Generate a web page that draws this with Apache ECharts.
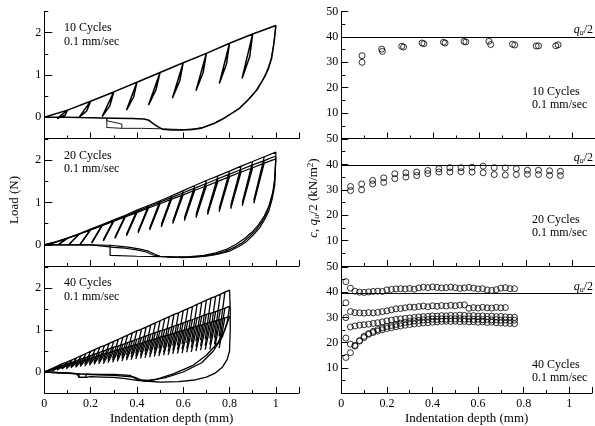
<!DOCTYPE html>
<html>
<head>
<meta charset="utf-8">
<script src="https://cdn.jsdelivr.net/npm/echarts@6/dist/echarts.min.js"></script>
<style>
  html, body { margin: 0; padding: 0; background: #fff; }
  #chart { width: 595px; height: 426px; }
</style>
</head>
<body>
<div id="chart"></div>
<script>
const SERIF = '"Liberation Serif", "Times New Roman", serif';

// ---- left column: load vs indentation depth ----
// 10 cycles
const peaks10 = [[0.1,0.17],[0.2,0.38],[0.3,0.6],[0.4,0.83],[0.5,1.06],[0.6,1.29],[0.7,1.51],[0.8,1.75],[0.9,1.97],[1.0,2.17]];
const valleys10 = [[0.055,-0.03],[0.15,0.0],[0.25,0.02],[0.355,0.17],[0.45,0.29],[0.553,0.45],[0.655,0.63],[0.756,0.8],[0.854,0.92]];
const reload10 = [[0.09,0.05],[0.183,0.15],[0.283,0.27],[0.386,0.48],[0.483,0.66],[0.585,0.86],[0.686,1.06],[0.787,1.26],[0.887,1.43]];
const tail10a = [[1.0,2.17],[0.993,1.8],[0.982,1.4],[0.968,1.15],[0.952,0.96],[0.92,0.66],[0.88,0.41],[0.845,0.22],[0.807,0.09],[0.77,-0.04],[0.735,-0.14],[0.7,-0.21],[0.677,-0.26],[0.64,-0.29],[0.6,-0.3],[0.55,-0.3],[0.51,-0.28],[0.49,-0.22],[0.47,-0.15],[0.452,-0.07],[0.43,-0.04],[0.38,-0.03],[0.3,-0.02],[0.2,-0.01],[0.1,0.0],[0.0,0.0]];
const tail10b = [[1.0,2.15],[0.99,1.7],[0.978,1.35],[0.96,1.08],[0.945,0.9],[0.912,0.62],[0.873,0.38],[0.838,0.2],[0.8,0.06],[0.763,-0.06],[0.727,-0.16],[0.69,-0.23],[0.65,-0.27],[0.6,-0.29],[0.55,-0.28],[0.5,-0.27],[0.42,-0.26],[0.335,-0.26],[0.27,-0.24],[0.27,-0.02],[0.27,-0.08],[0.335,-0.16],[0.335,-0.26]];

// 20 cycles (three overlapping runs)
const peakDepth20 = [0.05,0.10,0.15,0.20,0.25,0.30,0.35,0.40,0.45,0.50,0.55,0.60,0.65,0.70,0.75,0.80,0.85,0.90,0.95,1.00];
const valleyDepth20 = [0.01,0.06,0.105,0.155,0.205,0.255,0.305,0.355,0.405,0.455,0.505,0.555,0.605,0.655,0.705,0.755,0.805,0.855,0.905];
const peakA20 = [0.07,0.16,0.26,0.37,0.48,0.59,0.70,0.82,0.93,1.04,1.16,1.28,1.40,1.52,1.63,1.74,1.86,1.97,2.08,2.19];
const valleyA20 = [0.00,0.00,0.00,0.02,0.06,0.12,0.18,0.25,0.32,0.40,0.48,0.56,0.64,0.72,0.79,0.86,0.93,1.00,1.06];
const peakB20 = [0.07,0.16,0.25,0.36,0.46,0.57,0.68,0.79,0.90,1.01,1.12,1.23,1.34,1.45,1.56,1.67,1.78,1.89,1.99,2.10];
const valleyB20 = [0.00,0.00,0.00,0.01,0.05,0.10,0.16,0.23,0.30,0.37,0.44,0.52,0.60,0.67,0.74,0.81,0.88,0.95,1.01];
const peakC20 = [0.06,0.15,0.25,0.35,0.45,0.56,0.66,0.76,0.87,0.97,1.08,1.18,1.29,1.39,1.50,1.61,1.72,1.82,1.93,2.03];
const valleyC20 = [0.00,0.00,0.00,0.01,0.04,0.09,0.15,0.21,0.28,0.35,0.42,0.50,0.57,0.64,0.71,0.78,0.85,0.92,0.98];
const tail20A = [[1.0,2.19],[0.998,1.7],[0.995,1.4],[0.985,1.1],[0.97,0.8],[0.95,0.58],[0.93,0.4],[0.9,0.22],[0.874,0.08],[0.84,-0.04],[0.8,-0.15],[0.75,-0.22],[0.7,-0.27],[0.65,-0.29],[0.6,-0.3],[0.55,-0.29],[0.5,-0.27],[0.48,-0.23],[0.45,-0.15],[0.414,-0.1],[0.37,-0.06],[0.32,-0.03],[0.284,-0.01],[0.2,0.0],[0.0,0.0]];
const tail20B = [[1.0,2.1],[0.996,1.6],[0.99,1.3],[0.978,1.02],[0.96,0.74],[0.94,0.54],[0.915,0.36],[0.885,0.19],[0.855,0.05],[0.82,-0.06],[0.78,-0.16],[0.73,-0.23],[0.68,-0.27],[0.62,-0.29],[0.56,-0.29],[0.5,-0.27],[0.47,-0.24],[0.44,-0.17],[0.4,-0.12],[0.35,-0.08],[0.3,-0.06],[0.284,-0.05],[0.284,-0.01],[0.2,0.0],[0.0,0.0]];
const tail20C = [[1.0,2.03],[0.994,1.5],[0.985,1.2],[0.97,0.92],[0.95,0.68],[0.925,0.47],[0.895,0.29],[0.865,0.15],[0.83,0.02],[0.79,-0.1],[0.74,-0.19],[0.69,-0.25],[0.63,-0.28],[0.57,-0.29],[0.5,-0.28],[0.4,-0.27],[0.284,-0.25],[0.284,0.0]];

// 40 cycles (three overlapping runs)
const peakDepth40 = [0.02,0.04,0.06,0.08,0.10,0.12,0.14,0.16,0.18,0.20,0.22,0.24,0.26,0.28,0.30,0.32,0.34,0.36,0.38,0.40,0.42,0.44,0.46,0.48,0.50,0.52,0.54,0.56,0.58,0.60,0.62,0.64,0.66,0.68,0.70,0.72,0.74,0.76,0.78,0.80];
const valleyDepth40 = [0.00,0.015,0.035,0.055,0.075,0.095,0.115,0.135,0.155,0.175,0.195,0.215,0.235,0.255,0.275,0.295,0.315,0.335,0.355,0.375,0.395,0.415,0.435,0.455,0.475,0.495,0.515,0.535,0.555,0.575,0.595,0.615,0.635,0.655,0.675,0.695,0.715,0.735,0.755];
const peakA40 = [0.05,0.10,0.15,0.20,0.24,0.29,0.34,0.39,0.44,0.49,0.54,0.59,0.63,0.68,0.73,0.78,0.83,0.88,0.93,0.98,1.02,1.07,1.12,1.17,1.22,1.27,1.32,1.37,1.41,1.46,1.51,1.56,1.61,1.66,1.71,1.76,1.80,1.85,1.90,1.95];
const valleyA40 = [0.00,0.02,0.05,0.07,0.09,0.11,0.13,0.16,0.18,0.20,0.22,0.24,0.27,0.29,0.31,0.33,0.35,0.38,0.40,0.42,0.44,0.47,0.49,0.51,0.53,0.56,0.58,0.60,0.62,0.64,0.67,0.69,0.71,0.73,0.76,0.78,0.80,0.82,0.85];
const peakB40 = [0.04,0.08,0.12,0.16,0.20,0.23,0.27,0.31,0.35,0.39,0.43,0.47,0.51,0.55,0.59,0.62,0.66,0.70,0.74,0.78,0.82,0.86,0.90,0.94,0.98,1.01,1.05,1.09,1.13,1.17,1.21,1.25,1.29,1.33,1.37,1.40,1.44,1.48,1.52,1.56];
const valleyB40 = [0.00,0.02,0.04,0.06,0.08,0.10,0.12,0.14,0.16,0.18,0.19,0.21,0.23,0.25,0.27,0.28,0.30,0.32,0.33,0.35,0.37,0.39,0.41,0.42,0.44,0.45,0.47,0.49,0.51,0.53,0.54,0.56,0.58,0.60,0.62,0.63,0.65,0.67,0.68];
const peakC40 = [0.03,0.07,0.10,0.13,0.17,0.20,0.23,0.26,0.30,0.33,0.36,0.40,0.43,0.46,0.50,0.53,0.56,0.59,0.63,0.66,0.69,0.73,0.76,0.79,0.83,0.86,0.89,0.92,0.96,0.99,1.02,1.06,1.09,1.12,1.16,1.19,1.22,1.25,1.29,1.32];
const valleyC40 = [0.00,0.02,0.03,0.05,0.07,0.08,0.10,0.11,0.13,0.14,0.16,0.18,0.19,0.20,0.22,0.23,0.25,0.26,0.28,0.29,0.31,0.32,0.34,0.35,0.37,0.38,0.40,0.41,0.43,0.44,0.45,0.47,0.48,0.50,0.52,0.53,0.54,0.56,0.57];
const tail40A = [[0.8,1.95],[0.803,1.5],[0.803,1.0],[0.8,0.5],[0.79,0.3],[0.77,0.12],[0.74,-0.02],[0.7,-0.12],[0.65,-0.19],[0.58,-0.23],[0.5,-0.24],[0.45,-0.22],[0.4,-0.2],[0.35,-0.16],[0.3,-0.13],[0.25,-0.12],[0.2,-0.11],[0.18,-0.13],[0.15,-0.13],[0.15,-0.05],[0.1,-0.02],[0.0,0.0]];
const tail40B = [[0.8,1.56],[0.79,1.2],[0.77,0.85],[0.73,0.5],[0.68,0.22],[0.6,0.0],[0.52,-0.14],[0.45,-0.2],[0.4,-0.18],[0.37,-0.08],[0.3,-0.06],[0.25,-0.06],[0.18,-0.05],[0.18,-0.13],[0.15,-0.13],[0.14,-0.04],[0.0,0.0]];
const tail40C = [[0.8,1.32],[0.78,1.0],[0.75,0.7],[0.7,0.4],[0.64,0.15],[0.56,-0.04],[0.48,-0.18],[0.43,-0.22],[0.39,-0.12],[0.3,-0.08],[0.2,-0.06],[0.0,0.0]];

// ---- right column: c, q_u/2 vs indentation depth ----
const quHalf = 39.7;
const depth10a = [0.09,0.175,0.262,0.35,0.443,0.532,0.64,0.742,0.845,0.93];
const depth10b = [0.09,0.178,0.27,0.358,0.45,0.54,0.648,0.752,0.855,0.94];
const c10a = [32.6,35.2,36.3,37.6,37.9,38.2,38.3,37.1,36.4,36.5];
const c10b = [30.0,34.3,36.0,37.3,37.6,38.0,37.0,36.8,36.5,36.9];

const depth20 = [0.04,0.088,0.136,0.184,0.232,0.28,0.327,0.375,0.423,0.471,0.519,0.567,0.615,0.663,0.711,0.759,0.807,0.855,0.903,0.95];
const c20a = [31.3,32.3,33.7,34.7,36.3,36.7,37.0,37.6,38.3,38.7,38.7,38.9,39.3,38.7,38.6,38.3,37.7,37.7,37.5,37.3];
const c20b = [29.7,30.0,32.3,32.9,34.4,35.0,35.6,36.4,37.0,37.0,37.1,37.0,36.7,36.0,35.8,36.0,36.1,36.0,35.7,35.6];

const depth40 = [0.02,0.04,0.06,0.08,0.10,0.12,0.14,0.16,0.18,0.20,0.22,0.24,0.26,0.28,0.30,0.32,0.34,0.36,0.38,0.40,0.42,0.44,0.46,0.48,0.50,0.52,0.54,0.56,0.58,0.60,0.62,0.64,0.66,0.68,0.70,0.72,0.74,0.76];
const c40s1 = [44.2,41.6,40.4,40.0,39.9,40.1,40.3,40.4,40.3,40.9,41.1,41.3,41.4,41.3,41.5,41.2,41.7,42.0,41.8,42.1,41.9,41.7,41.8,42.0,41.8,41.5,41.7,41.9,41.6,41.3,41.4,40.9,40.7,41.0,41.6,41.8,41.4,41.4];
const c40s2 = [35.8,32.3,31.9,31.8,31.7,31.9,31.8,32.0,32.3,32.6,33.0,33.4,33.5,33.8,34.1,34.0,34.3,34.5,34.2,34.6,34.4,34.7,34.5,34.8,34.6,34.9,35.0,33.6,33.9,33.7,34.0,33.8,33.7,34.0,33.8,33.9];
const c40s3 = [29.9,26.2,26.6,26.9,27.1,27.3,27.6,27.9,28.2,28.6,28.9,29.2,29.4,29.6,29.8,30.0,30.2,30.3,30.4,30.6,30.5,30.7,30.6,30.8,30.7,30.9,30.8,30.6,30.7,30.5,30.6,30.4,30.5,30.3,30.4,30.2,30.1,30.0];
const c40s4 = [21.8,19.4,18.9,20.8,22.5,23.6,24.5,25.2,25.8,26.4,26.8,27.2,27.7,28.0,28.3,28.6,28.8,29.0,29.1,29.3,29.2,29.4,29.3,29.5,29.4,29.5,29.3,29.4,29.2,29.3,29.1,29.2,29.0,29.1,28.9,29.0,28.8,28.9];
const c40s5 = [14.1,16.0,18.6,20.6,22.0,23.3,24.0,24.6,25.1,25.6,25.9,26.3,26.6,26.9,27.2,27.4,27.6,27.8,27.9,28.1,28.2,28.4,28.5,28.4,28.5,28.3,28.4,28.2,28.3,28.1,28.2,28.0,28.1,27.9,27.8,27.7,27.6,27.5];

// ---- helpers ----
function zip(xs, ys) {
    return ys.map((y, i) => [xs[i], y]);
}

function sawPath(pDepth, pLoad, vDepth, vLoad, tail, reload) {
    const pts = [[0, 0]];
    for (let i = 0; i < pLoad.length; i++) {
        pts.push([pDepth[i], pLoad[i]]);
        if (i < vLoad.length) {
            pts.push([vDepth[i], vLoad[i]]);
            if (reload) pts.push(reload[i]);
            pts.push([pDepth[i], pLoad[i]]);
        }
    }
    return pts.concat(tail);
}

function lineSeries(data, gi, w) {
    return {
        type: 'line', xAxisIndex: gi, yAxisIndex: gi, data: data,
        symbol: 'none', showSymbol: false, silent: true, animation: false,
        lineStyle: { color: '#000', width: w }
    };
}

function dots(data, gi, withLine) {
    const s = {
        type: 'scatter', xAxisIndex: gi, yAxisIndex: gi, data: data,
        symbol: 'circle', symbolSize: 6, silent: true, animation: false,
        itemStyle: { color: 'rgba(0,0,0,0)', borderColor: '#000', borderWidth: 1 }
    };
    if (withLine) {
        s.markLine = {
            silent: true, symbol: ['none', 'none'], animation: false,
            label: { show: false },
            lineStyle: { color: '#000', width: 1, type: 'solid' },
            data: [{ yAxis: quHalf }]
        };
    }
    return s;
}

const tops = [11.5, 139, 267];
const grids = [];
const xAxes = [];
const yAxes = [];
const tickStyle = { color: '#000', width: 1 };
const labelFont = { color: '#000', fontFamily: SERIF, fontSize: 12 };

for (let col = 0; col < 2; col++) {
    for (let row = 0; row < 3; row++) {
        const gi = col * 3 + row;
        grids.push(col === 0
            ? { left: 44.3, top: tops[row], width: 254.7, height: 127 }
            : { left: 341.3, top: tops[row], width: 255.2, height: 127 });
        const bottom = row === 2;
        xAxes.push({
            type: 'value', gridIndex: gi, position: 'bottom', min: 0, max: 1.1, interval: 0.2,
            axisLine: { show: true, onZero: false, lineStyle: tickStyle },
            axisTick: { show: true, inside: true, length: 6, lineStyle: tickStyle },
            minorTick: { show: true, splitNumber: 2, length: 3, lineStyle: tickStyle },
            splitLine: { show: false },
            axisLabel: Object.assign({ show: bottom, margin: 5,
                formatter: v => (v > 1.01 ? '' : String(+v.toFixed(1))) }, labelFont),
            name: bottom ? 'Indentation depth (mm)' : '',
            nameLocation: 'middle', nameGap: 19,
            nameTextStyle: { color: '#000', fontFamily: SERIF, fontSize: 13 }
        });
        if (col === 0) {
            // ticks: long at whole newtons, short at halves
            yAxes.push({
                type: 'value', gridIndex: gi, position: 'left', min: -0.5, max: 2.5, interval: 1,
                axisLine: { show: true, onZero: false, lineStyle: tickStyle },
                axisTick: { show: true, inside: true, length: 4, lineStyle: tickStyle },
                minorTick: { show: true, splitNumber: 2, length: 8, lineStyle: tickStyle },
                splitLine: { show: false },
                axisLabel: { show: false }
            });
        } else {
            yAxes.push({
                type: 'value', gridIndex: gi, position: 'left', min: 0, max: 50, interval: 10,
                axisLine: { show: true, onZero: false, lineStyle: tickStyle },
                axisTick: { show: true, inside: true, length: 7, lineStyle: tickStyle },
                minorTick: { show: true, splitNumber: 2, length: 4, lineStyle: tickStyle },
                splitLine: { show: false },
                axisLabel: Object.assign({ margin: 3, formatter: v => (v === 0 ? '' : String(v)) }, labelFont)
            });
        }
    }
}
// label-only axes for the load panels
for (let row = 0; row < 3; row++) {
    yAxes.push({
        type: 'value', gridIndex: row, position: 'left', offset: 0, min: -0.5, max: 2.5, interval: 0.5,
        axisLine: { show: false }, axisTick: { show: false }, splitLine: { show: false },
        axisLabel: Object.assign({ margin: 3,
            formatter: v => (Math.abs(v - Math.round(v)) < 1e-6 && v >= 0 && v <= 2 ? String(Math.round(v)) : '') }, labelFont)
    });
}

const series = [
    lineSeries(sawPath(peaks10.map(p => p[0]), peaks10.map(p => p[1]), valleys10.map(p => p[0]), valleys10.map(p => p[1]), tail10a, reload10), 0, 1.5),
    lineSeries(tail10b, 0, 0.9),

    lineSeries(sawPath(peakDepth20, peakA20, valleyDepth20, valleyA20, tail20A), 1, 1.2),
    lineSeries(sawPath(peakDepth20, peakB20, valleyDepth20, valleyB20, tail20B), 1, 1.2),
    lineSeries(sawPath(peakDepth20, peakC20, valleyDepth20, valleyC20, tail20C), 1, 1.2),

    lineSeries(sawPath(peakDepth40, peakA40, valleyDepth40, valleyA40, tail40A), 2, 1.3),
    lineSeries(sawPath(peakDepth40, peakB40, valleyDepth40, valleyB40, tail40B), 2, 1.3),
    lineSeries(sawPath(peakDepth40, peakC40, valleyDepth40, valleyC40, tail40C), 2, 1.3),

    dots(zip(depth10a, c10a), 3, true),
    dots(zip(depth10b, c10b), 3, false),
    dots(zip(depth20, c20a), 4, true),
    dots(zip(depth20, c20b), 4, false),
    dots(zip(depth40, c40s1), 5, true),
    dots(zip(depth40, c40s2), 5, false),
    dots(zip(depth40, c40s3), 5, false),
    dots(zip(depth40, c40s4), 5, false),
    dots(zip(depth40, c40s5), 5, false)
];

function note(x, y, text, align) {
    return { type: 'text', x: x, y: y, silent: true,
        style: { text: text, font: '12px ' + SERIF, fill: '#000', align: align || 'left', verticalAlign: 'middle' } };
}

const quRich = {
    i: { fontFamily: SERIF, fontStyle: 'italic', fontSize: 12, fill: '#000' },
    s: { fontFamily: SERIF, fontStyle: 'italic', fontSize: 8, fill: '#000', padding: [6, 0, 0, 0] },
    n: { fontFamily: SERIF, fontSize: 12, fill: '#000' }
};
function quLabel(y) {
    return { type: 'text', x: 593, y: y, silent: true,
        style: { text: '{i|q}{s|u}{n|/2}', rich: quRich, align: 'right', verticalAlign: 'middle' } };
}

const graphics = [
    note(64, 28, '10 Cycles'), note(64, 42, '0.1 mm/sec'),
    note(64, 156, '20 Cycles'), note(64, 169, '0.1 mm/sec'),
    note(64, 283, '40 Cycles'), note(64, 297, '0.1 mm/sec'),
    note(532, 92, '10 Cycles'), note(532, 105, '0.1 mm/sec'),
    note(532, 220, '20 Cycles'), note(532, 233, '0.1 mm/sec'),
    note(532, 365, '40 Cycles'), note(532, 378, '0.1 mm/sec'),
    quLabel(30), quLabel(158), quLabel(287),
    { type: 'text', x: 15, y: 200, rotation: Math.PI / 2, silent: true,
      style: { text: 'Load (N)', font: '13px ' + SERIF, fill: '#000', align: 'center', verticalAlign: 'middle' } },
    { type: 'text', x: 314, y: 198, rotation: Math.PI / 2, silent: true,
      style: {
          text: '{i|c}{n|, }{i|q}{s|u}{n|/2 (kN/m}{p|2}{n|)}',
          align: 'center', verticalAlign: 'middle',
          rich: {
              i: { fontFamily: SERIF, fontStyle: 'italic', fontSize: 13, fill: '#000' },
              n: { fontFamily: SERIF, fontSize: 13, fill: '#000' },
              s: { fontFamily: SERIF, fontStyle: 'italic', fontSize: 9, fill: '#000', padding: [6, 0, 0, 0] },
              p: { fontFamily: SERIF, fontSize: 9, fill: '#000', padding: [0, 0, 6, 0] }
          }
      } }
];

const chart = echarts.init(document.getElementById('chart'), null, { renderer: 'canvas' });
chart.setOption({
    backgroundColor: '#fff',
    animation: false,
    grid: grids,
    xAxis: xAxes,
    yAxis: yAxes,
    series: series,
    graphic: graphics
});
</script>
</body>
</html>
